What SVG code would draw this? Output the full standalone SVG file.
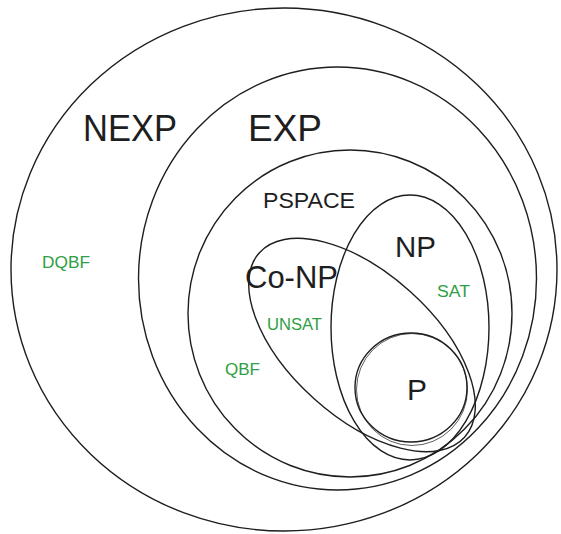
<svg xmlns="http://www.w3.org/2000/svg" width="561" height="534" viewBox="0 0 561 534">
<style>
.set{fill:none;stroke:#1e1e1e;stroke-width:1.4}
.thin{fill:none;stroke:#1e1e1e;stroke-width:0.9;opacity:0.8}
.lbl{font-family:"Liberation Sans",Arial,sans-serif;fill:#1e1e1e}
.ex{font-family:"Liberation Sans",Arial,sans-serif;fill:#2f9e44;font-size:16px}
</style>
<rect width="561" height="534" fill="#ffffff"/>
<g id="NEXP">
<ellipse class="set" cx="284" cy="269.5" rx="273" ry="261.5"/>
<text class="lbl" x="83" y="141" font-size="36" textLength="94" lengthAdjust="spacingAndGlyphs">NEXP</text>
<text class="ex" x="42" y="268" textLength="48" lengthAdjust="spacingAndGlyphs">DQBF</text>
</g>
<g id="EXP">
<ellipse class="set" cx="337.5" cy="278.5" rx="199" ry="211.5"/>
<text class="lbl" x="248" y="141" font-size="36" textLength="74" lengthAdjust="spacingAndGlyphs">EXP</text>
</g>
<g id="PSPACE">
<ellipse class="set" cx="350" cy="313.5" rx="162" ry="163.5"/>
<text class="lbl" x="263" y="208" font-size="22" textLength="92" lengthAdjust="spacingAndGlyphs">PSPACE</text>
<text class="ex" x="225" y="375" textLength="35" lengthAdjust="spacingAndGlyphs">QBF</text>
</g>
<g id="NP">
<ellipse class="set" cx="410" cy="327.5" rx="79" ry="132.5"/>
<text class="lbl" x="395" y="257" font-size="30" textLength="41" lengthAdjust="spacingAndGlyphs">NP</text>
<text class="ex" x="437" y="297" textLength="33" lengthAdjust="spacingAndGlyphs">SAT</text>
</g>
<g id="CoNP">
<ellipse class="set" cx="362" cy="345" rx="138" ry="72" transform="rotate(42 362 345)"/>
<text class="lbl" x="245" y="288" font-size="32" textLength="93" lengthAdjust="spacingAndGlyphs">Co-NP</text>
<text class="ex" x="267" y="330" textLength="55" lengthAdjust="spacingAndGlyphs">UNSAT</text>
</g>
<g id="P">
<ellipse class="set" cx="411" cy="387.5" rx="56" ry="54.5"/>
<ellipse class="thin" cx="412" cy="389.5" rx="55.5" ry="56"/>
<text class="lbl" x="407" y="400" font-size="30" textLength="20" lengthAdjust="spacingAndGlyphs">P</text>
</g>
<g id="connectors"/>
</svg>
